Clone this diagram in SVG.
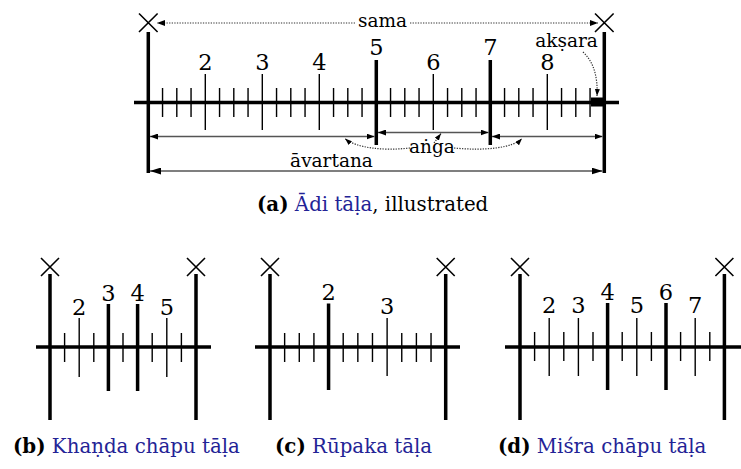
<svg xmlns="http://www.w3.org/2000/svg" width="741" height="469" viewBox="0 0 741 469">
<style>
.bg{fill:#fff}
.thick{stroke:#000;stroke-width:3.5;fill:none}
.tick{stroke:#000;stroke-width:1.4;fill:none}
.cross{stroke:#000;stroke-width:1.6;fill:none}
text{font-family:'DejaVu Serif','Liberation Serif',serif}
.num{font-size:22.5px;text-anchor:middle;fill:#000}
.lbl{font-size:18.5px;fill:#000;text-anchor:middle}
.dim{stroke:#555;stroke-width:1.4;fill:none}
.dot{stroke:#333;stroke-width:1.2;stroke-dasharray:1.3 1.3;fill:none}
.cap{font-size:19.8px;fill:#000}
.b{font-weight:bold}
.blue{fill:#232396}
</style>
<defs>
<marker id="ah" viewBox="0 0 8 6" refX="8" refY="3" markerWidth="8" markerHeight="6" markerUnits="userSpaceOnUse" orient="auto-start-reverse"><path d="M0,0L8,3L0,6z" fill="#000"/></marker>
<marker id="ahL" viewBox="0 0 11 7" refX="11" refY="3.5" markerWidth="11" markerHeight="7" markerUnits="userSpaceOnUse" orient="auto-start-reverse"><path d="M0,0L11,3.5L0,7z" fill="#000"/></marker>
<marker id="ahS" viewBox="0 0 7 5" refX="7" refY="2.5" markerWidth="7" markerHeight="5" markerUnits="userSpaceOnUse" orient="auto-start-reverse"><path d="M0,0L7,2.5L0,5z" fill="#000"/></marker>
</defs>
<rect class="bg" x="0" y="0" width="741" height="469"/>

<g id="adi-tala">
<path class="thick" d="M134,102.5H619"/>
<path class="thick" d="M148.3,32V173M604.3,32V173"/>
<path class="cross" d="M139,13.5L157.6,32M157.6,13.5L139,32M595,13.5L613.6,32M613.6,13.5L595,32"/>
<path class="thick" d="M376.3,60V145M490.3,60V145"/>
<path class="tick" d="M205.3,74V130M262.3,74V130M319.3,74V130M433.3,74V130M547.3,74V130"/>
<path class="tick" d="M162.55,88V117M176.8,88V117M191.05,88V117M219.55,88V117M233.8,88V117M248.05,88V117M276.55,88V117M290.8,88V117M305.05,88V117M333.55,88V117M347.8,88V117M362.05,88V117M390.55,88V117M404.8,88V117M419.05,88V117M447.55,88V117M461.8,88V117M476.05,88V117M504.55,88V117M518.8,88V117M533.05,88V117M561.55,88V117M575.8,88V117M590.05,88V117"/>
<rect x="591" y="97.5" width="13.3" height="9" fill="#000"/>
<text class="num" x="205.3" y="70">2</text>
<text class="num" x="262.3" y="70">3</text>
<text class="num" x="319.3" y="70">4</text>
<text class="num" x="376.3" y="55">5</text>
<text class="num" x="433.3" y="70">6</text>
<text class="num" x="490.3" y="55">7</text>
<text class="num" x="547.3" y="70">8</text>
<text class="lbl" x="382.5" y="27">sama</text>
<text class="lbl" x="566.5" y="47">akṣara</text>
<text class="lbl" x="432" y="153">aṅga</text>
<text class="lbl" x="331.5" y="167">āvartana</text>
</g>

<g id="connectors">
<path class="dot" d="M355,23H157" marker-end="url(#ah)"/>
<path class="dot" d="M410,23H598" marker-end="url(#ah)"/>
<path class="dot" d="M583,52C594,62 598,78 597,96" marker-end="url(#ahS)"/>
<path class="dim" d="M150,136.5H374.5" marker-start="url(#ah)" marker-end="url(#ah)"/>
<path class="dim" d="M378,132.5H488.6" marker-start="url(#ah)" marker-end="url(#ah)"/>
<path class="dim" d="M492,136.5H602.5" marker-start="url(#ah)" marker-end="url(#ah)"/>
<path class="dim" d="M150,171H602.5" marker-start="url(#ahL)" marker-end="url(#ahL)"/>
<path class="dot" d="M410,148C383,151 356,148 345,138.5" marker-end="url(#ahS)"/>
<path class="dot" d="M454,148C485,151 513,148 522,138.5" marker-end="url(#ahS)"/>
<path class="dot" d="M434,143L441,133.5" marker-end="url(#ahS)"/>
</g>

<g id="caption-a">
<text class="cap" x="257" y="211"><tspan class="b">(a)</tspan> <tspan class="blue">Ādi tāḷa</tspan>, illustrated</text>
</g>

<g id="khanda-chapu">
<path class="thick" d="M36,347H211"/>
<path class="thick" d="M50,274V420M196,274V420"/>
<path class="cross" d="M41,258L59,276M59,258L41,276M187,258L205,276M205,258L187,276"/>
<path class="thick" d="M108.4,304V391M137.6,304V391"/>
<path class="tick" d="M79.2,318V377M166.8,318V377"/>
<path class="tick" d="M64.6,333V362M93.8,333V362M123,333V362M152.2,333V362M181.4,333V362"/>
<text class="num" x="79.2" y="315">2</text>
<text class="num" x="108.4" y="301">3</text>
<text class="num" x="137.6" y="301">4</text>
<text class="num" x="166.8" y="315">5</text>
<text class="cap" x="13" y="453"><tspan class="b">(b)</tspan> <tspan class="blue">Khaṇḍa chāpu tāḷa</tspan></text>
</g>

<g id="rupaka">
<path class="thick" d="M255,347H460"/>
<path class="thick" d="M270,274V420M445.7,274V420"/>
<path class="cross" d="M261,258L279,276M279,258L261,276M436.7,258L454.7,276M454.7,258L436.7,276"/>
<path class="thick" d="M328.56,303.5V390"/>
<path class="tick" d="M387.12,318V376"/>
<path class="tick" d="M284.64,333V362M299.28,333V362M313.92,333V362M343.2,333V362M357.84,333V362M372.48,333V362M401.76,333V362M416.4,333V362M431.04,333V362"/>
<text class="num" x="328.56" y="300">2</text>
<text class="num" x="387.12" y="314">3</text>
<text class="cap" x="275" y="453"><tspan class="b">(c)</tspan> <tspan class="blue">Rūpaka tāḷa</tspan></text>
</g>

<g id="misra-chapu">
<path class="thick" d="M505,347H741"/>
<path class="thick" d="M520,274V420M724.4,274V420"/>
<path class="cross" d="M511,258L529,276M529,258L511,276M715.4,258L733.4,276M733.4,258L715.4,276"/>
<path class="thick" d="M607.6,303V390M666,303V390"/>
<path class="tick" d="M549.2,318V376M578.4,318V376M636.8,318V376M695.2,318V376"/>
<path class="tick" d="M534.6,332V361M563.8,332V361M593,332V361M622.2,332V361M651.4,332V361M680.6,332V361M709.8,332V361"/>
<text class="num" x="549.2" y="313">2</text>
<text class="num" x="578.4" y="313">3</text>
<text class="num" x="607.6" y="300">4</text>
<text class="num" x="636.8" y="313">5</text>
<text class="num" x="666" y="300">6</text>
<text class="num" x="695.2" y="313">7</text>
<text class="cap" x="498" y="453"><tspan class="b">(d)</tspan> <tspan class="blue">Miśra chāpu tāḷa</tspan></text>
</g>
</svg>
